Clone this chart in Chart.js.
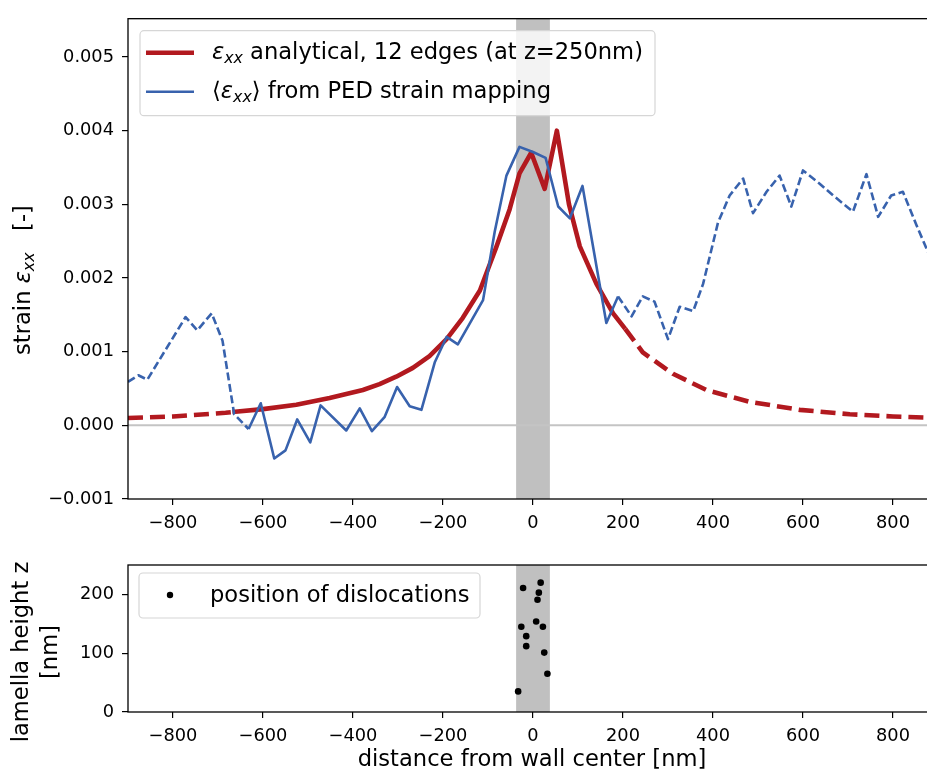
<!DOCTYPE html>
<html>
<head>
<meta charset="utf-8">
<script src="https://cdn.jsdelivr.net/npm/chart.js@4.4.1/dist/chart.umd.min.js"></script>
<style>
  html, body { margin: 0; padding: 0; background: #fff; overflow: hidden; width: 927px; height: 774px; }
  #top { position: absolute; left: 0; top: 0; }
  #bottom { position: absolute; left: 0; top: 545px; }
</style>
</head>
<body>
<canvas id="top" width="945" height="545"></canvas>
<canvas id="bottom" width="945" height="229"></canvas>
<script>
// Datos leidos del grafico
// curva analitica (12 dislocaciones, z=250nm)
const redX = [-900, -800, -683, -668, -600, -526, -452, -378, -341, -304, -267, -230, -192, -156, -118, -81, -52, -30, -4, 26, 53, 80, 104, 141, 178, 205, 244, 311, 385, 481, 593, 704, 800, 900];
const redY = [0.00010, 0.00012, 0.00017, 0.00018, 0.00022, 0.00028, 0.00037, 0.00048, 0.00056, 0.00066, 0.00078, 0.00094, 0.00117, 0.00146, 0.00183, 0.00243, 0.00293, 0.00342, 0.00370, 0.00321, 0.00400, 0.00300, 0.00243, 0.00192, 0.00152, 0.00131, 0.00099, 0.00070, 0.00048, 0.00032, 0.00021, 0.00015, 0.00012, 0.00010];
const redSolid = [-668, 205];

// <exx> medido por PED
const blueX = [-900, -877, -857, -772, -746, -714, -690, -664, -632, -605, -575, -550, -524, -495, -472, -415, -385, -358, -330, -302, -274, -248, -218, -192, -167, -111, -85, -59, -30, 0, 28, 56, 82, 110, 163, 189, 219, 244, 270, 300, 326, 356, 378, 411, 437, 467, 489, 519, 548, 574, 600, 637, 667, 711, 741, 767, 796, 822, 852, 880];
const blueY = [0.00059, 0.00068, 0.00062, 0.00147, 0.00129, 0.00152, 0.00115, 0.00015, -0.00005, 0.00030, -0.00045, -0.00034, 0.00008, -0.00023, 0.00027, -0.00007, 0.00023, -0.00008, 0.00011, 0.00052, 0.00026, 0.00021, 0.00086, 0.00120, 0.00110, 0.00170, 0.00263, 0.00339, 0.00378, 0.00371, 0.00363, 0.00297, 0.00281, 0.00325, 0.00139, 0.00175, 0.00148, 0.00175, 0.00168, 0.00117, 0.00161, 0.00155, 0.00192, 0.00275, 0.00312, 0.00335, 0.00288, 0.00317, 0.00339, 0.00297, 0.00346, 0.00328, 0.00312, 0.00290, 0.00341, 0.00283, 0.00312, 0.00317, 0.00272, 0.00232];
const blueSolid = [-632, 189];

// posicion de las dislocaciones
const dislX = [-22, 17, 13, 10, 7, -26, 22, -15, -15, 25, 32, -33];
const dislZ = [211, 220, 203, 191, 154, 145, 145, 129, 112, 101, 65, 35];

// zona de la pared y ejes
const wallBand = [-37.5, 37.5];
const xRange = [-900, 900];
const xTicks = [-800, -600, -400, -200, 0, 200, 400, 600, 800];
const strainRange = [-0.001, 0.00552];
const strainTicks = [-0.001, 0, 0.001, 0.002, 0.003, 0.004, 0.005];
const heightRange = [0, 250];
const heightTicks = [0, 100, 200];

const legendTop = [
    [{t: 'ε', i: 1}, {t: 'xx', i: 1, s: 1}, {t: ' analytical, 12 edges (at z=250nm)'}],
    [{t: '⟨'}, {t: 'ε', i: 1}, {t: 'xx', i: 1, s: 1}, {t: '⟩ from PED strain mapping'}]
];
const yTitleTop = [{t: 'strain '}, {t: 'ε', i: 1}, {t: 'xx', i: 1, s: 1}, {t: '   [-]'}];
const legendBottom = 'position of dislocations';
const yTitleBottom = ['lamella height z', '[nm]'];
const xTitle = 'distance from wall center [nm]';

const colores = {
    rojo: '#b2191f',
    azul: '#3862ad',
    banda: '#c0c0c0',
    cero: '#c4c4c4'
};
const FONT = '"DejaVu Sans", sans-serif';
const FS_TICK = 17.8;
const FS = 22.6;

Chart.defaults.font.family = FONT;
Chart.defaults.font.size = FS_TICK;
Chart.defaults.color = '#000';
Chart.defaults.animation = false;

function fmtNum(v, dec) {
    const s = Math.abs(v).toFixed(dec);
    return (v < -1e-12 ? '\u2212' : '') + s;
}

function richWidth(ctx, parts, size) {
    let w = 0;
    parts.forEach(p => {
        const fs = p.s ? size * 0.7 : size;
        ctx.font = (p.i ? 'italic ' : '') + fs + 'px ' + FONT;
        w += ctx.measureText(p.t).width;
    });
    return w;
}

function drawRich(ctx, parts, x, y, size) {
    ctx.textBaseline = 'middle';
    ctx.textAlign = 'left';
    ctx.fillStyle = '#000';
    let cx = x;
    parts.forEach(p => {
        const fs = p.s ? size * 0.7 : size;
        ctx.font = (p.i ? 'italic ' : '') + fs + 'px ' + FONT;
        ctx.fillText(p.t, cx, p.s ? y + size * 0.28 : y);
        cx += ctx.measureText(p.t).width;
    });
}

function roundRect(ctx, x, y, w, h, r) {
    ctx.beginPath();
    ctx.moveTo(x + r, y);
    ctx.arcTo(x + w, y, x + w, y + h, r);
    ctx.arcTo(x + w, y + h, x, y + h, r);
    ctx.arcTo(x, y + h, x, y, r);
    ctx.arcTo(x, y, x + w, y, r);
    ctx.closePath();
}

// banda gris + marco
const bandPlugin = {
    id: 'banda',
    beforeDatasetsDraw(chart) {
        const {ctx, chartArea: a, scales: {x}} = chart;
        ctx.save();
        ctx.fillStyle = colores.banda;
        const x0 = x.getPixelForValue(wallBand[0]);
        const x1 = x.getPixelForValue(wallBand[1]);
        ctx.fillRect(x0, a.top, x1 - x0, a.bottom - a.top);
        ctx.restore();
    },
    afterDatasetsDraw(chart) {
        const {ctx, chartArea: a} = chart;
        ctx.save();
        ctx.strokeStyle = '#000';
        ctx.lineWidth = 1.3;
        ctx.strokeRect(a.left, a.top, a.right - a.left, a.bottom - a.top);
        ctx.restore();
    }
};

const topDeco = {
    id: 'topDeco',
    afterDraw(chart) {
        const {ctx, chartArea: a} = chart;
        ctx.save();
        // leyenda
        const bx = a.left + 12, by = a.top + 12, bw = 515, bh = 85;
        roundRect(ctx, bx, by, bw, bh, 4);
        ctx.fillStyle = 'rgba(255,255,255,0.8)';
        ctx.fill();
        ctx.strokeStyle = '#d6d6d6';
        ctx.lineWidth = 1.2;
        ctx.stroke();
        const rows = [a.top + 34, a.top + 73];
        const styles = [{c: colores.rojo, w: 4.5}, {c: colores.azul, w: 2.5}];
        rows.forEach((ry, k) => {
            ctx.beginPath();
            ctx.strokeStyle = styles[k].c;
            ctx.lineWidth = styles[k].w;
            ctx.moveTo(a.left + 18, ry);
            ctx.lineTo(a.left + 66, ry);
            ctx.stroke();
            drawRich(ctx, legendTop[k], a.left + 84, ry, FS);
        });
        // titulo eje y
        ctx.translate(24, 280);
        ctx.rotate(-Math.PI / 2);
        const w = richWidth(ctx, yTitleTop, FS);
        drawRich(ctx, yTitleTop, -w / 2, 0, FS);
        ctx.restore();
    }
};

const bottomDeco = {
    id: 'bottomDeco',
    afterDraw(chart) {
        const {ctx, chartArea: a} = chart;
        ctx.save();
        const bx = a.left + 11, by = a.top + 8, bw = 341, bh = 45;
        roundRect(ctx, bx, by, bw, bh, 4);
        ctx.fillStyle = 'rgba(255,255,255,0.8)';
        ctx.fill();
        ctx.strokeStyle = '#d6d6d6';
        ctx.lineWidth = 1.2;
        ctx.stroke();
        ctx.beginPath();
        ctx.fillStyle = '#000';
        ctx.arc(a.left + 42, a.top + 30, 3.2, 0, Math.PI * 2);
        ctx.fill();
        ctx.font = FS + 'px ' + FONT;
        ctx.textBaseline = 'middle';
        ctx.textAlign = 'left';
        ctx.fillText(legendBottom, a.left + 82, a.top + 31);
        // titulo eje x
        ctx.textAlign = 'center';
        ctx.fillText(xTitle, 532, 215);
        // titulo eje y (dos lineas)
        ctx.translate(0, 107);
        ctx.rotate(-Math.PI / 2);
        ctx.fillText(yTitleBottom[0], 0, 22);
        ctx.fillText(yTitleBottom[1], 0, 51);
        ctx.restore();
    }
};

function fixedTicks(list) {
    return s => { s.ticks = list.map(v => ({value: v})); };
}

function xScale(height) {
    return {
        type: 'linear',
        min: xRange[0],
        max: xRange[1],
        afterBuildTicks: fixedTicks(xTicks),
        afterFit: s => { s.height = height; },
        grid: { drawOnChartArea: false, drawTicks: true, tickLength: 6, color: '#000', lineWidth: 1.2 },
        border: { display: false },
        ticks: {
            maxRotation: 0,
            autoSkip: false,
            padding: 8,
            callback: v => fmtNum(v, 0)
        }
    };
}

function yScale(range, list, dec) {
    return {
        type: 'linear',
        min: range[0],
        max: range[1],
        afterBuildTicks: fixedTicks(list),
        afterFit: s => { s.width = 128; },
        grid: { drawOnChartArea: false, drawTicks: true, tickLength: 6, color: '#000', lineWidth: 1.2 },
        border: { display: false },
        ticks: {
            autoSkip: false,
            padding: 8,
            callback: v => fmtNum(v, dec)
        }
    };
}

function dashedOutside(range, dash) {
    return ctx => (ctx.p1.parsed.x <= range[0] + 0.01 || ctx.p0.parsed.x >= range[1] - 0.01) ? dash : undefined;
}

function toPoints(xs, ys) {
    return xs.map((x, i) => ({x: x, y: ys[i]}));
}

new Chart(document.getElementById('top'), {
    type: 'line',
    data: {
        datasets: [
            {
                label: 'PED',
                data: toPoints(blueX, blueY),
                borderColor: colores.azul,
                borderWidth: 2.6,
                pointRadius: 0,
                borderCapStyle: 'butt',
                borderJoinStyle: 'round',
                segment: { borderDash: dashedOutside(blueSolid, [8, 3.6]) },
                order: 0
            },
            {
                label: 'analytical',
                data: toPoints(redX, redY),
                borderColor: colores.rojo,
                borderWidth: 4.6,
                pointRadius: 0,
                borderCapStyle: 'butt',
                borderJoinStyle: 'round',
                segment: { borderDash: dashedOutside(redSolid, [15, 7]) },
                order: 1
            },
            {
                label: 'cero',
                data: toPoints(xRange, [0, 0]),
                borderColor: colores.cero,
                borderWidth: 2,
                pointRadius: 0,
                order: 2
            }
        ]
    },
    options: {
        responsive: false,
        parsing: false,
        layout: { padding: { top: 10, right: 7, left: 0, bottom: 0 } },
        plugins: { legend: { display: false }, tooltip: { enabled: false } },
        scales: {
            x: xScale(46),
            y: yScale(strainRange, strainTicks, 3)
        }
    },
    plugins: [bandPlugin, topDeco]
});

new Chart(document.getElementById('bottom'), {
    type: 'scatter',
    data: {
        datasets: [{
            label: legendBottom,
            data: toPoints(dislX, dislZ),
            backgroundColor: '#000',
            borderColor: '#000',
            pointRadius: 3.3,
            borderWidth: 0
        }]
    },
    options: {
        responsive: false,
        layout: { padding: { top: 20, right: 7, left: 0, bottom: 0 } },
        plugins: { legend: { display: false }, tooltip: { enabled: false } },
        scales: {
            x: xScale(62),
            y: yScale(heightRange, heightTicks, 0)
        }
    },
    plugins: [bandPlugin, bottomDeco]
});
</script>
</body>
</html>
